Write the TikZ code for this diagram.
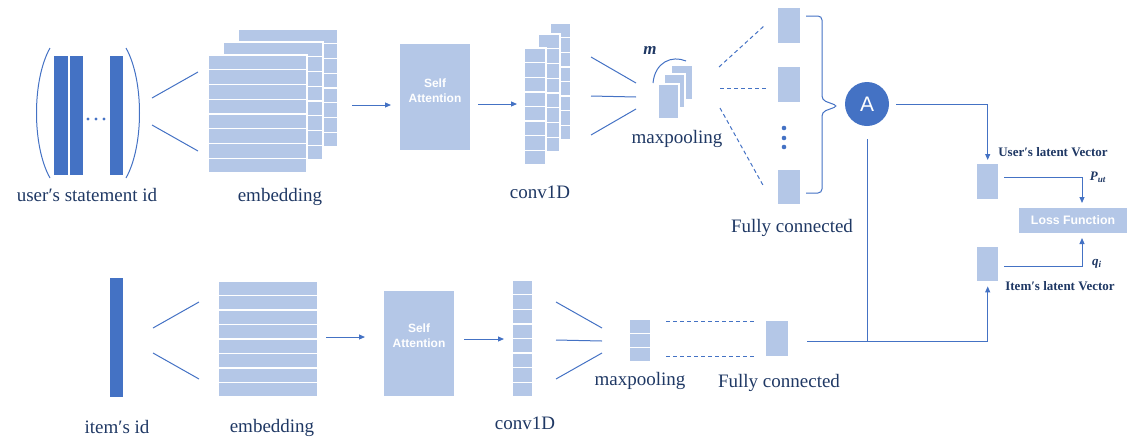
\documentclass[tikz,border=0pt]{standalone}
\usepackage{fontspec}
\setmainfont{Liberation Serif}
\setsansfont{Liberation Sans}
\usetikzlibrary{arrows.meta}

\definecolor{boxfill}{HTML}{B4C7E7}
\definecolor{deepblue}{HTML}{4472C4}
\definecolor{ink}{HTML}{1F3864}
\definecolor{wire}{HTML}{4472C4}

\tikzset{
  cell/.style={fill=boxfill, draw=white, line width=1.3pt},
  wireline/.style={draw=wire, line width=1pt},
  dashwire/.style={wireline, dash pattern=on 4pt off 3pt},
  arrowwire/.style={wireline, -{Triangle[length=6pt,width=5pt]}},
  caption/.style={text=ink, font=\fontsize{19}{22}\selectfont, inner sep=0, anchor=base},
  small caption/.style={text=ink, font=\bfseries\fontsize{13}{15}\selectfont, inner sep=0, anchor=base},
  symbol/.style={text=ink, font=\bfseries\itshape\fontsize{13}{15}\selectfont, inner sep=0},
  panel/.style={fill=boxfill, draw=none, inner sep=0, anchor=north west},
  panel text/.style={text=white, font=\sffamily\bfseries\fontsize{12}{15}\selectfont, align=center, inner sep=0},
}

% a column of equal cells: left, top, right, bottom, number of rows
\newcommand{\cellstack}[5]{%
  \pgfmathsetmacro\rowstep{(#4-#2)/#5}
  \foreach \k in {1,...,#5}{
    \draw[cell] (#1,{#2+(\k-1)*\rowstep}) rectangle (#3,{#2+\k*\rowstep});
  }
}

\begin{document}
\begin{tikzpicture}[x=1pt, y=-1pt]
\useasboundingbox (0,0) rectangle (1127,437);

% ---------------- user branch ----------------
% statement ids in brackets
\draw[wireline] (50,48) .. controls (32,80) and (32,146) .. (50,178);
\draw[wireline] (126,48) .. controls (144,80) and (144,146) .. (126,178);
\fill[deepblue] (54,56) rectangle (68,175);
\fill[deepblue] (70,56) rectangle (83,175);
\fill[deepblue] (110,56) rectangle (123,175);
\foreach \dx in {88,96,104} \fill[wire] (\dx,119) circle (1.6);
\node[caption] (uidtext) at (87,201) {user′s statement id};

% fan into the embedding
\coordinate (uf1) at (152,98);  \coordinate (uf1e) at (198,72);
\coordinate (uf2) at (152,125); \coordinate (uf2e) at (198,151);
\draw[wireline] (uf1) -- (uf1e);
\draw[wireline] (uf2) -- (uf2e);

% embedding stacks
\cellstack{238}{29}{338}{147}{8}
\cellstack{223}{42}{323}{160}{8}
\cellstack{208}{55}{307}{173}{8}
\node[caption] (embtext1) at (280,201) {embedding};

% self attention
\coordinate (ua1) at (352,105); \coordinate (ua1e) at (391,105);
\draw[arrowwire] (ua1) -- (ua1e);
\node[panel, minimum width=70pt, minimum height=106pt] (sa1) at (400,44) {};
\node[panel text] (sa1text) at (435,91) {Self\\Attention};
\coordinate (ua2) at (478,104); \coordinate (ua2e) at (517,104);
\draw[arrowwire] (ua2) -- (ua2e);

% conv1D feature maps
\cellstack{550}{23}{571}{140}{8}
\cellstack{538}{34}{560}{152}{8}
\cellstack{524}{48}{546}{165}{8}
\node[caption] (convtext1) at (540,198) {conv1D};

% fan into max pooling
\coordinate (uc1) at (591,57);  \coordinate (uc1e) at (636,83);
\coordinate (uc2) at (591,96);  \coordinate (uc2e) at (636,97);
\coordinate (uc3) at (591,135); \coordinate (uc3e) at (636,109);
\draw[wireline] (uc1) -- (uc1e);
\draw[wireline] (uc2) -- (uc2e);
\draw[wireline] (uc3) -- (uc3e);

% pooled maps
\cellstack{671}{65}{693}{100}{1}
\cellstack{664}{74}{685}{108}{1}
\cellstack{658}{84}{679}{119}{1}
\coordinate (arcs) at (653,83); \coordinate (arce) at (686,61);
\draw[wireline] (arcs) .. controls (655,62) and (672,55) .. (arce);
\node[text=ink, font=\bfseries\itshape\fontsize{17}{18}\selectfont, inner sep=0] (mtext) at (650,50) {m};
\node[caption] (pooltext1) at (677,143) {maxpooling};

% dashed links to the fully connected units
\coordinate (ud1) at (719,67);  \coordinate (ud1e) at (764,26);
\coordinate (ud2) at (720,88);  \coordinate (ud2e) at (768,88);
\coordinate (ud3) at (720,108); \coordinate (ud3e) at (764,187);
\draw[dashwire] (ud1) -- (ud1e);
\draw[dashwire] (ud2) -- (ud2e);
\draw[dashwire] (ud3) -- (ud3e);

\node[panel, minimum width=22pt, minimum height=35pt] (fc1) at (778,8) {};
\node[panel, minimum width=22pt, minimum height=35pt] (fc2) at (778,67) {};
\node[panel, minimum width=22pt, minimum height=34pt] (fc3) at (778,170) {};
\foreach \dy in {128,138,147} \fill[wire] (784,\dy) circle (2.3);
\node[caption] (fctext1) at (792,232) {Fully connected};

% brace gathering the units
\draw[wireline, rounded corners=4pt] (806,16) -- (822,16) -- (822,100) -- (838,106) -- (822,112) -- (822,193) -- (806,193);

% attention node
\node[circle, fill=deepblue, minimum size=44pt, inner sep=0, text=white,
      font=\sffamily\fontsize{21}{22}\selectfont] (att) at (867,104) {A};

% ---------------- item branch ----------------
\fill[deepblue] (110,278) rectangle (123,397);
\node[caption] (iidtext) at (117,433) {item′s id};

\coordinate (if1) at (153,328); \coordinate (if1e) at (199,302);
\coordinate (if2) at (153,353); \coordinate (if2e) at (199,379);
\draw[wireline] (if1) -- (if1e);
\draw[wireline] (if2) -- (if2e);

\cellstack{218}{281}{318}{397}{8}
\node[caption] (embtext2) at (272,432) {embedding};

\coordinate (ia1) at (326,337); \coordinate (ia1e) at (365,337);
\draw[arrowwire] (ia1) -- (ia1e);
\node[panel, minimum width=70pt, minimum height=105pt] (sa2) at (384,291) {};
\node[panel text] (sa2text) at (419,336) {Self\\Attention};
\coordinate (ia2) at (464,339); \coordinate (ia2e) at (504,339);
\draw[arrowwire] (ia2) -- (ia2e);

\cellstack{512}{280}{533}{397}{8}
\node[caption] (convtext2) at (525,429) {conv1D};

\coordinate (ic1) at (556,302); \coordinate (ic1e) at (602,328);
\coordinate (ic2) at (556,340); \coordinate (ic2e) at (602,341);
\coordinate (ic3) at (556,379); \coordinate (ic3e) at (602,353);
\draw[wireline] (ic1) -- (ic1e);
\draw[wireline] (ic2) -- (ic2e);
\draw[wireline] (ic3) -- (ic3e);

\cellstack{629}{319}{651}{362}{3}
\node[caption] (pooltext2) at (640,385) {maxpooling};

\coordinate (id1) at (666,321); \coordinate (id1e) at (755,321);
\coordinate (id2) at (666,356); \coordinate (id2e) at (755,356);
\draw[dashwire] (id1) -- (id1e);
\draw[dashwire] (id2) -- (id2e);

\node[panel, minimum width=22pt, minimum height=35pt] (fc4) at (766,321) {};
\node[caption] (fctext2) at (779,387) {Fully connected};

% ---------------- latent vectors and loss ----------------
\node[panel, minimum width=21pt, minimum height=35pt] (uvec) at (977,164) {};
\node[panel, minimum width=21pt, minimum height=34pt] (ivec) at (977,247) {};
\node[small caption] (uvectext) at (1053,156) {User′s latent Vector};
\node[small caption] (ivectext) at (1060,290) {Item′s latent Vector};

\node[panel, minimum width=108pt, minimum height=25pt] (loss) at (1019,208) {};
\node[text=white, font=\sffamily\bfseries\fontsize{12.3}{14}\selectfont, inner sep=0] (losstext) at (1073,220.5) {Loss Function};

\coordinate (atteast) at (896,104);
\draw[arrowwire] (atteast) -| ([yshift=4pt]uvec.north);
\coordinate (attdown) at (867,139);
\coordinate (join) at (867,341);
\draw[wireline] (attdown) -- (join);
\coordinate (fcout) at (807,341);
\draw[arrowwire] (fcout) -| ([yshift=-5pt]ivec.south);

\coordinate (uout) at (1004,177);
\coordinate (lossin1) at (1082,203);
\draw[arrowwire] (uout) -| (lossin1);
\coordinate (iout) at (1004,266);
\coordinate (lossin2) at (1082,238);
\draw[arrowwire] (iout) -| (lossin2);
\node[symbol] (puttext) at (1098,177) {P\textsubscript{ut}};
\node[symbol] (qitext) at (1097,264) {q\textsubscript{i}};

\end{tikzpicture}
\end{document}
